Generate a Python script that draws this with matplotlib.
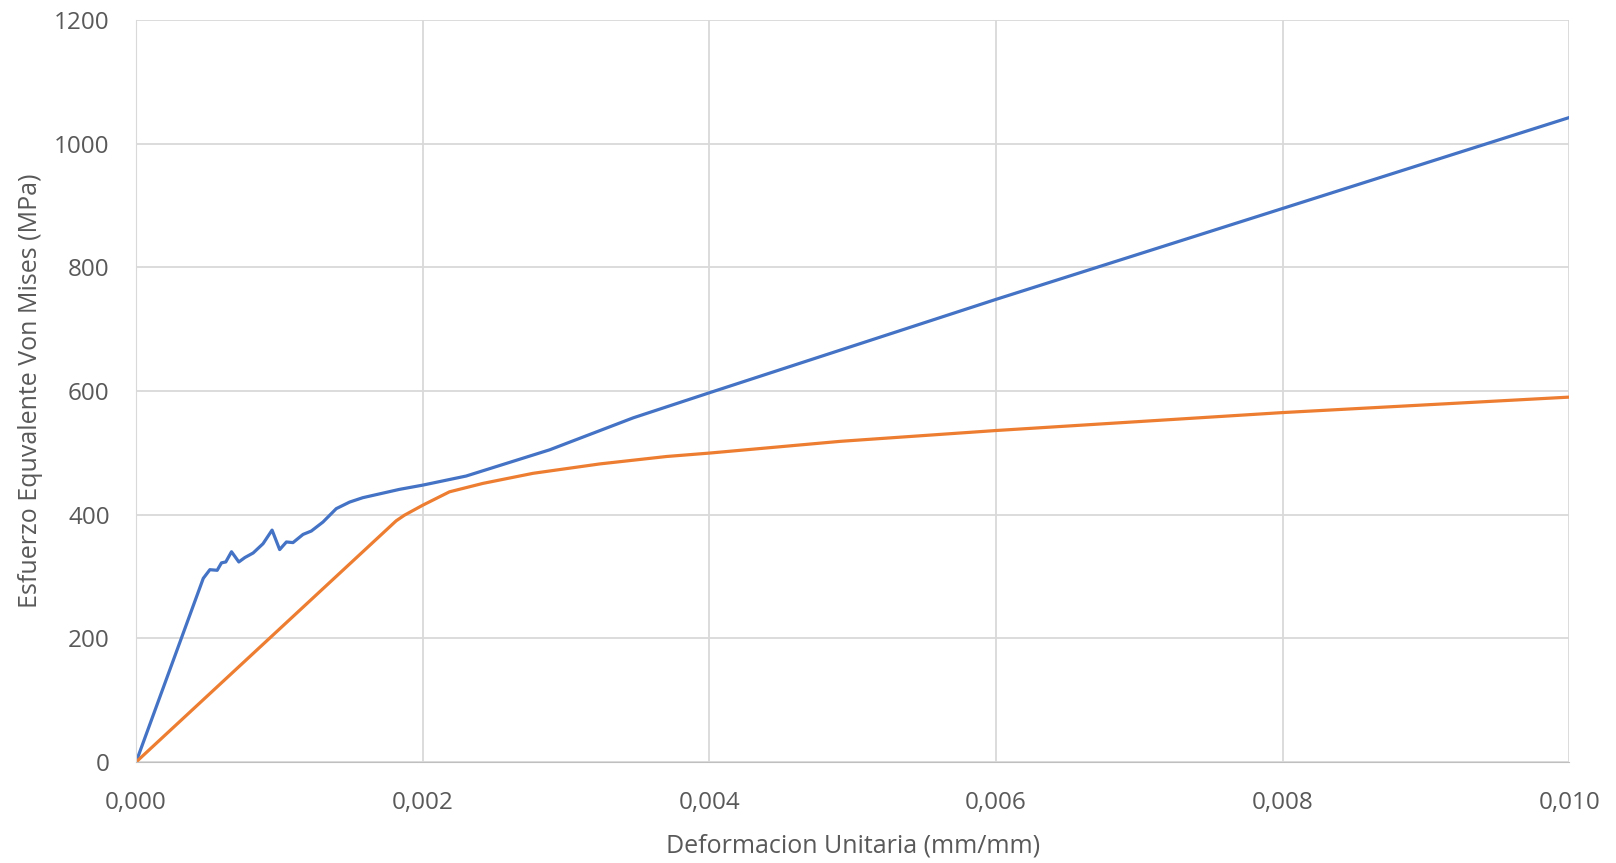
import numpy as np
import matplotlib.pyplot as plt
from matplotlib.ticker import FuncFormatter

plt.rcParams['font.family'] = ['Open Sans', 'DejaVu Sans']

# blue curve
strain_a = [0.0, 0.000469, 0.000515, 0.000566, 0.000596, 0.000626, 0.000666, 0.000717,
            0.000759, 0.000817, 0.000886, 0.000949, 0.001002, 0.001049, 0.001095,
            0.001165, 0.001223, 0.001304, 0.001397, 0.001490, 0.001582, 0.001837,
            0.002, 0.002303, 0.002886, 0.003469, 0.004, 0.006, 0.008, 0.010]
stress_a = [0, 297, 311, 310, 322, 323.5, 340, 323.5, 330.6, 338, 353, 375, 343.5,
            355.8, 354.8, 368, 373.5, 388, 409.7, 420.3, 427.4, 440.8, 447.7, 462.4,
            504.8, 556.5, 597, 748, 895, 1042]

# orange curve
strain_b = [0.0, 0.001815, 0.001872, 0.002, 0.002187, 0.00242, 0.00277, 0.003236,
            0.003702, 0.004, 0.004914, 0.006, 0.008, 0.010]
stress_b = [0, 390, 399, 415.2, 436.9, 450.5, 466.8, 482, 494, 499.5, 518.5, 536, 565, 590]

fig = plt.figure(figsize=(16.16, 8.63), dpi=100)
ax = fig.add_axes([0.0842, 0.117, 0.8868, 0.86])

ax.plot(strain_a, stress_a, color='#4472C4', linewidth=2.3, solid_joinstyle='round')
ax.plot(strain_b, stress_b, color='#ED7D31', linewidth=2.3, solid_joinstyle='round')

ax.set_xlim(0, 0.010)
ax.set_ylim(0, 1200)
ax.set_xticks(np.arange(0, 0.0101, 0.002))
ax.set_yticks(np.arange(0, 1201, 200))
ax.xaxis.set_major_formatter(FuncFormatter(lambda v, p: f"{v:.3f}".replace('.', ',')))
ax.grid(color='#D9D9D9', linewidth=1.3)
ax.set_axisbelow(True)
for s in ax.spines.values():
    s.set_visible(False)
ax.spines['left'].set_visible(True)
ax.spines['left'].set_color('#D9D9D9')
ax.spines['bottom'].set_visible(True)
ax.spines['bottom'].set_color('#BFBFBF')
ax.tick_params(length=0, labelsize=17.5, colors='#595959')
ax.tick_params(axis='x', pad=21)
ax.tick_params(axis='y', pad=19)

ax.set_xlabel("Deformacion Unitaria (mm/mm)", fontsize=18, color='#595959', labelpad=13)
ax.set_ylabel("Esfuerzo Equvalente Von Mises (MPa)", fontsize=18, color='#595959', labelpad=8)

fig.savefig('out.png', dpi=100)
